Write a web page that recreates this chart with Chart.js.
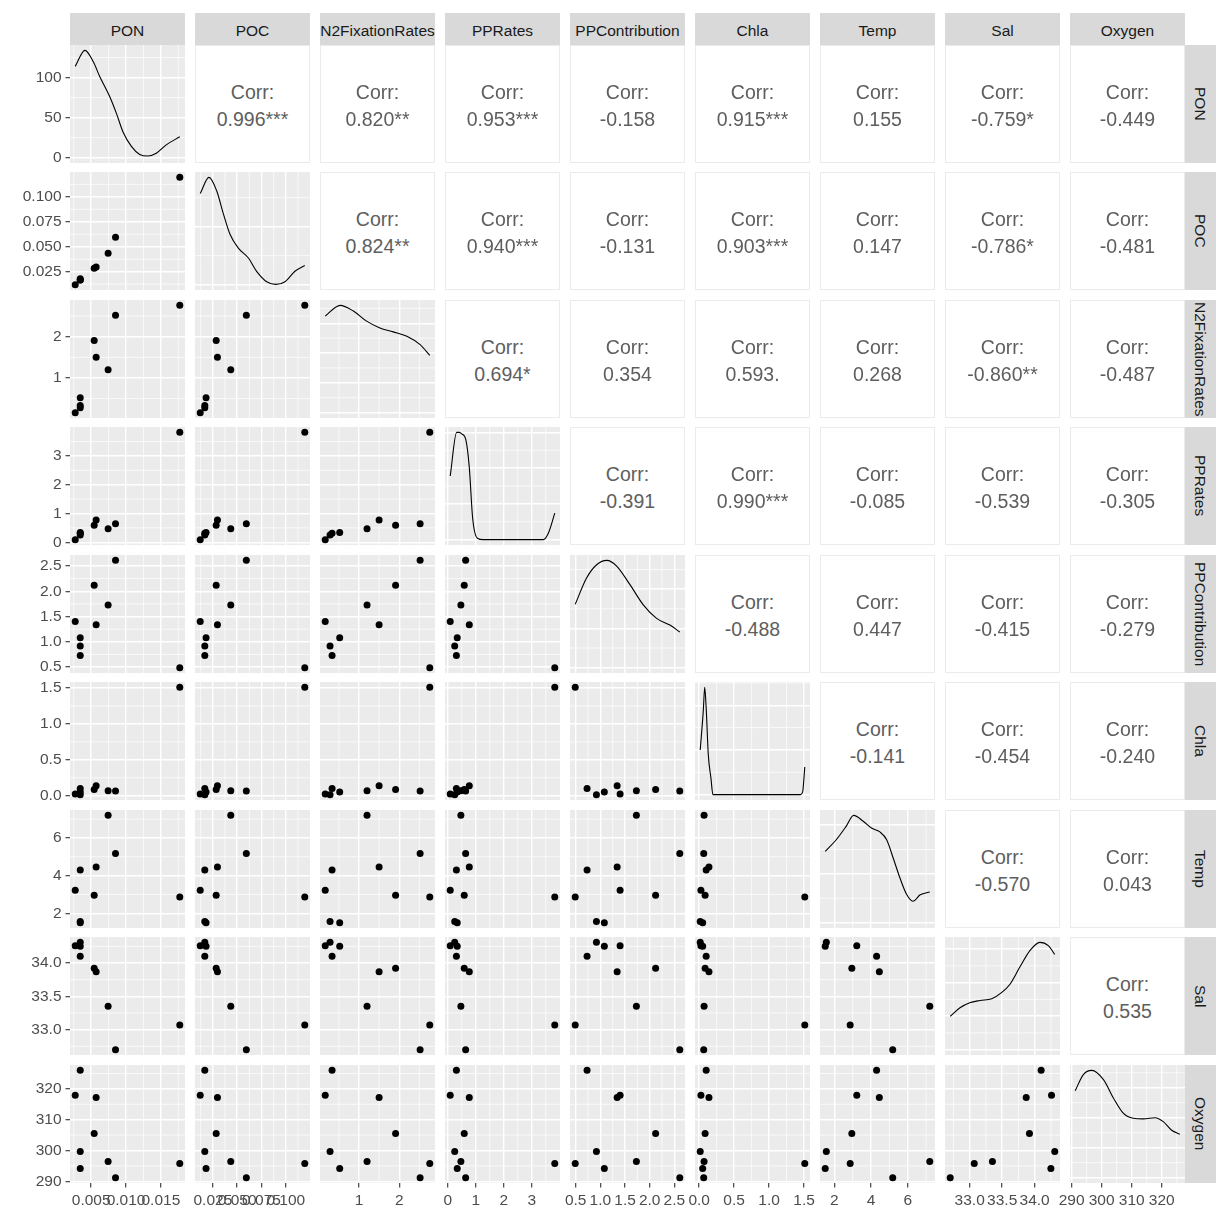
<!DOCTYPE html>
<html>
<head>
<meta charset="utf-8">
<title>ggpairs</title>
<script src="https://cdn.jsdelivr.net/npm/chart.js@4.4.0/dist/chart.umd.min.js"></script>
<style>
  body { margin: 0; background: #ffffff; font-family: "Liberation Sans", Arial, sans-serif; }
  #wrap { position: relative; width: 1232px; height: 1230px; overflow: hidden; }
  canvas { position: absolute; }
  .strip { position: absolute; background: #D9D9D9; color: #1A1A1A; font-size: 15.5px;
           display: flex; align-items: center; justify-content: center; white-space: nowrap;
           overflow: hidden; box-sizing: border-box; }
  .strip.top { padding-top: 4px; }
  .strip.side { writing-mode: vertical-rl; padding-right: 1px; }
  .corr { position: absolute; background: #ffffff; border: 1px solid #EBEBEB; box-sizing: border-box;
          color: #5E5E5E; font-size: 19.5px; line-height: 19.5px; }
  .corr div { position: absolute; left: 0; right: 0; text-align: center; white-space: nowrap; }
</style>
</head>
<body>
<div id="wrap"></div>
<script>
// --------------------
// Data (9 stations)
// --------------------
const varNames = ["PON", "POC", "N2FixationRates", "PPRates", "PPContribution", "Chla", "Temp", "Sal", "Oxygen"];

const pon = [0.00343, 0.00271, 0.00571, 0.00543, 0.00343, 0.00743, 0.01771, 0.00343, 0.00849];
const poc = [0.0167, 0.0120, 0.0297, 0.0284, 0.0167, 0.0434, 0.1195, 0.0180, 0.0594];
const n2Fixation = [0.33, 0.16, 1.50, 1.91, 0.28, 1.20, 2.76, 0.52, 2.52];
const ppRates = [0.31, 0.09, 0.77, 0.59, 0.25, 0.47, 3.82, 0.34, 0.64];
const ppContribution = [0.73, 1.40, 1.34, 2.12, 0.92, 1.73, 0.49, 1.08, 2.61];
const chla = [0.10, 0.025, 0.14, 0.085, 0.015, 0.07, 1.51, 0.05, 0.065];
const temp = [4.30, 3.22, 4.45, 2.95, 1.56, 7.20, 2.86, 1.50, 5.18];
const sal = [34.10, 34.26, 33.87, 33.92, 34.31, 33.35, 33.07, 34.25, 32.70];
const oxygen = [326.0, 317.9, 317.2, 305.5, 299.7, 296.4, 295.8, 294.2, 291.2];

// axis breaks and their labels
const ponTicks = [0.005, 0.010, 0.015];
const ponLabels = ["0.005", "0.010", "0.015"];
const pocTicks = [0.025, 0.050, 0.075, 0.100];
const pocLabels = ["0.025", "0.050", "0.075", "0.100"];
const n2Ticks = [1, 2];
const n2Labels = ["1", "2"];
const ppRatesTicks = [0, 1, 2, 3];
const ppRatesLabels = ["0", "1", "2", "3"];
const ppContribTicks = [0.5, 1.0, 1.5, 2.0, 2.5];
const ppContribLabels = ["0.5", "1.0", "1.5", "2.0", "2.5"];
const chlaTicks = [0.0, 0.5, 1.0, 1.5];
const chlaLabels = ["0.0", "0.5", "1.0", "1.5"];
const tempTicks = [2, 4, 6];
const tempLabels = ["2", "4", "6"];
const salTicks = [33.0, 33.5, 34.0];
const salLabels = ["33.0", "33.5", "34.0"];
const oxygenTicks = [290, 300, 310, 320];
const oxygenLabels = ["290", "300", "310", "320"];

// density curves on the diagonal: [value, density]
const ponDensity = [[0.00271, 114], [0.0041, 134], [0.00529, 120], [0.00624, 101], [0.00767, 76], [0.00863, 55],
  [0.00957, 32], [0.01077, 14], [0.01196, 4], [0.01314, 2], [0.01434, 5.5], [0.01577, 16], [0.01771, 26]];
const pocDensity = [[0.0120, 15.7], [0.0210, 18.5], [0.0289, 16.2], [0.0358, 12.2], [0.0426, 8.7], [0.0512, 6.3],
  [0.0615, 4.6], [0.0700, 2.3], [0.0804, 0.5], [0.0896, 0.05], [0.0992, 0.5], [0.1094, 2.3], [0.1195, 3.3]];
const n2Density = [[0.16, 0.324], [0.53, 0.36], [0.86, 0.341], [1.19, 0.307], [1.52, 0.284], [1.85, 0.271],
  [2.19, 0.256], [2.52, 0.228], [2.76, 0.192]];
const ppRatesDensity = [[0.09, 0.89], [0.32, 1.5], [0.41, 1.5], [0.50, 1.48], [0.65, 1.39], [0.77, 1.01], [0.89, 0.30],
  [1.06, 0.02], [1.27, 0.0], [3.41, 0.0], [3.59, 0.09], [3.82, 0.37]];
const ppContribDensity = [[0.49, 0.323], [0.72, 0.457], [0.93, 0.526], [1.13, 0.547], [1.33, 0.518], [1.60, 0.423],
  [1.87, 0.320], [2.14, 0.251], [2.41, 0.217], [2.61, 0.182]];
const chlaDensity = [[0.015, 5.0], [0.059, 9.4], [0.079, 12.0], [0.102, 9.4], [0.130, 4.5], [0.168, 1.85], [0.197, 0],
  [1.45, 0], [1.48, 0.3], [1.495, 1.5], [1.51, 3.1]];
const tempDensity = [[1.50, 0.146], [2.10, 0.170], [2.65, 0.198], [3.05, 0.22], [3.57, 0.208], [4.02, 0.194],
  [4.48, 0.186], [4.85, 0.170], [5.21, 0.132], [5.58, 0.091], [5.95, 0.057], [6.28, 0.044], [6.68, 0.057], [7.20, 0.063]];
const salDensity = [[32.70, 0.249], [32.85, 0.312], [33.00, 0.350], [33.16, 0.367], [33.34, 0.380], [33.49, 0.425],
  [33.62, 0.488], [33.77, 0.614], [33.93, 0.740], [34.08, 0.80], [34.21, 0.776], [34.31, 0.710]];
const oxygenDensity = [[291.2, 0.0290], [293.9, 0.0344], [296.7, 0.0358], [300.6, 0.0327], [303.9, 0.0266],
  [307.2, 0.0215], [310.5, 0.0198], [313.9, 0.0196], [317.8, 0.0200], [320.5, 0.0187], [323.3, 0.0158], [326.0, 0.0145]];

// upper triangle correlation labels, one array per row
const corrPON = ["0.996***", "0.820**", "0.953***", "-0.158", "0.915***", "0.155", "-0.759*", "-0.449"];
const corrPOC = ["0.824**", "0.940***", "-0.131", "0.903***", "0.147", "-0.786*", "-0.481"];
const corrN2 = ["0.694*", "0.354", "0.593.", "0.268", "-0.860**", "-0.487"];
const corrPPRates = ["-0.391", "0.990***", "-0.085", "-0.539", "-0.305"];
const corrPPContrib = ["-0.488", "0.447", "-0.415", "-0.279"];
const corrChla = ["-0.141", "-0.454", "-0.240"];
const corrTemp = ["-0.570", "0.043"];
const corrSal = ["0.535"];

// --------------------
// Setup
// --------------------
Chart.defaults.font.family = "'Liberation Sans', Arial, sans-serif";

const variables = [
  { values: pon, ticks: ponTicks, labels: ponLabels, density: ponDensity },
  { values: poc, ticks: pocTicks, labels: pocLabels, density: pocDensity },
  { values: n2Fixation, ticks: n2Ticks, labels: n2Labels, density: n2Density },
  { values: ppRates, ticks: ppRatesTicks, labels: ppRatesLabels, density: ppRatesDensity },
  { values: ppContribution, ticks: ppContribTicks, labels: ppContribLabels, density: ppContribDensity },
  { values: chla, ticks: chlaTicks, labels: chlaLabels, density: chlaDensity },
  { values: temp, ticks: tempTicks, labels: tempLabels, density: tempDensity },
  { values: sal, ticks: salTicks, labels: salLabels, density: salDensity },
  { values: oxygen, ticks: oxygenTicks, labels: oxygenLabels, density: oxygenDensity }
];
const corrRows = [corrPON, corrPOC, corrN2, corrPPRates, corrPPContrib, corrChla, corrTemp, corrSal];

const rowTops = [45, 172, 300, 427, 555, 682, 810, 937, 1065];
const colLefts = [70, 195, 320, 445, 570, 695, 820, 945, 1070];
const PW = 115, PH = 118;
const Y_AXIS_W = 70, X_AXIS_H = 40;
const M = 20; // spare room round each canvas so edge labels are not cut off

const wrap = document.getElementById("wrap");

// ggplot-like limits: data range expanded by 5% each side
function limits(arr) {
  const lo = Math.min(...arr), hi = Math.max(...arr);
  const pad = (hi - lo) * 0.05;
  return [lo - pad, hi + pad];
}

function niceBreaks(lo, hi) {
  const raw = (hi - lo) / 4;
  const mag = Math.pow(10, Math.floor(Math.log10(raw)));
  const step = [1, 2, 2.5, 5, 10].map(m => m * mag).find(s => s >= raw);
  const out = [];
  for (let v = Math.ceil(lo / step) * step; v <= hi + 1e-12; v += step) out.push(+v.toPrecision(10));
  return out;
}

// grey panel + minor grid lines (midpoints between the majors)
const panelBg = {
  id: "panelBg",
  beforeDraw(chart) {
    const { ctx, chartArea: a, scales } = chart;
    ctx.save();
    ctx.fillStyle = "#EBEBEB";
    ctx.fillRect(a.left, a.top, a.right - a.left, a.bottom - a.top);
    ctx.strokeStyle = "#FFFFFF";
    ctx.lineWidth = 0.7;
    ["x", "y"].forEach(id => {
      const s = scales[id];
      const t = s.ticks.map(k => k.value);
      if (t.length < 2) return;
      const step = t[1] - t[0];
      const minors = [t[0] - step / 2];
      t.forEach(v => minors.push(v + step / 2));
      minors.forEach(v => {
        if (v < s.min || v > s.max) return;
        const p = s.getPixelForValue(v);
        ctx.beginPath();
        if (id === "x") { ctx.moveTo(p, a.top); ctx.lineTo(p, a.bottom); }
        else { ctx.moveTo(a.left, p); ctx.lineTo(a.right, p); }
        ctx.stroke();
      });
    });
    ctx.restore();
  }
};

function axisOptions(axis, range, ticks, labels, show) {
  return {
    type: "linear",
    min: range[0],
    max: range[1],
    afterBuildTicks: s => { s.ticks = ticks.map(v => ({ value: v })); },
    afterFit: s => {
      if (axis === "x") s.height = show ? X_AXIS_H : 0;
      else s.width = show ? Y_AXIS_W : 0;
      // keep the panel the full size: labels may hang over the edges like in ggplot
      s.paddingTop = 0; s.paddingBottom = 0; s.paddingLeft = 0; s.paddingRight = 0;
    },
    border: { display: false },
    grid: { color: "#FFFFFF", lineWidth: 1.4, drawTicks: show, tickLength: 4.5, tickColor: "#333333", tickWidth: 1.1 },
    ticks: {
      display: show, color: "#4D4D4D", font: { size: 15.5 }, padding: 4,
      autoSkip: false, maxRotation: 0, minRotation: 0,
      callback: (v, i) => labels[i]
    }
  };
}

// --------------------
// Strips
// --------------------
varNames.forEach((name, i) => {
  const top = document.createElement("div");
  top.className = "strip top";
  top.style.left = colLefts[i] + "px";
  top.style.top = "13px";
  top.style.width = PW + "px";
  top.style.height = "32px";
  top.textContent = name;
  wrap.appendChild(top);

  const side = document.createElement("div");
  side.className = "strip side";
  side.style.left = (colLefts[8] + PW) + "px";
  side.style.top = rowTops[i] + "px";
  side.style.width = "31px";
  side.style.height = PH + "px";
  side.textContent = name;
  wrap.appendChild(side);
});

// --------------------
// Panels
// --------------------
for (let r = 0; r < 9; r++) {
  for (let c = 0; c < 9; c++) {
    if (c > r) {
      const box = document.createElement("div");
      box.className = "corr";
      box.style.left = colLefts[c] + "px";
      box.style.top = rowTops[r] + "px";
      box.style.width = PW + "px";
      box.style.height = PH + "px";
      const l1 = document.createElement("div");
      l1.style.top = "37px";
      l1.textContent = "Corr:";
      const l2 = document.createElement("div");
      l2.style.top = "64px";
      l2.textContent = corrRows[r][c - r - 1];
      box.appendChild(l1);
      box.appendChild(l2);
      wrap.appendChild(box);
      continue;
    }

    const showY = c === 0;
    const showX = r === 8;
    const canvas = document.createElement("canvas");
    const axisW = showY ? Y_AXIS_W : 0;
    const axisH = showX ? X_AXIS_H : 0;
    const w = PW + axisW + 2 * M;
    const h = PH + axisH + 2 * M;
    canvas.width = w;
    canvas.height = h;
    canvas.style.width = w + "px";
    canvas.style.height = h + "px";
    canvas.style.left = (colLefts[c] - axisW - M) + "px";
    canvas.style.top = (rowTops[r] - M) + "px";
    wrap.appendChild(canvas);

    const colVar = variables[c];
    const rowVar = variables[r];
    const xRange = limits(colVar.values);
    const xAxis = axisOptions("x", xRange, colVar.ticks, colVar.labels, showX);

    let config;
    if (r === c) {
      const dens = colVar.density;
      const peak = Math.max(...dens.map(d => d[1]));
      const yRange = [-0.05 * peak, 1.05 * peak];
      const yTicks = niceBreaks(yRange[0], yRange[1]);
      config = {
        type: "line",
        data: {
          datasets: [{
            data: dens.map(d => ({ x: d[0], y: d[1] })),
            borderColor: "#000000",
            borderWidth: 1.1,
            pointRadius: 0,
            fill: false,
            cubicInterpolationMode: "monotone"
          }]
        },
        options: {
          scales: { x: xAxis, y: axisOptions("y", yRange, yTicks, yTicks.map(String), showY) }
        }
      };
    } else {
      config = {
        type: "scatter",
        data: {
          datasets: [{
            data: colVar.values.map((x, k) => ({ x: x, y: rowVar.values[k] })),
            backgroundColor: "#000000",
            borderWidth: 0,
            pointRadius: 3.5
          }]
        },
        options: {
          scales: { x: xAxis, y: axisOptions("y", limits(rowVar.values), rowVar.ticks, rowVar.labels, showY) }
        }
      };
    }
    config.options.animation = false;
    config.options.responsive = false;
    config.options.events = [];
    config.options.layout = { padding: M };
    config.options.plugins = { legend: { display: false }, tooltip: { enabled: false } };
    config.plugins = [panelBg];
    new Chart(canvas, config);
  }
}
</script>
</body>
</html>
